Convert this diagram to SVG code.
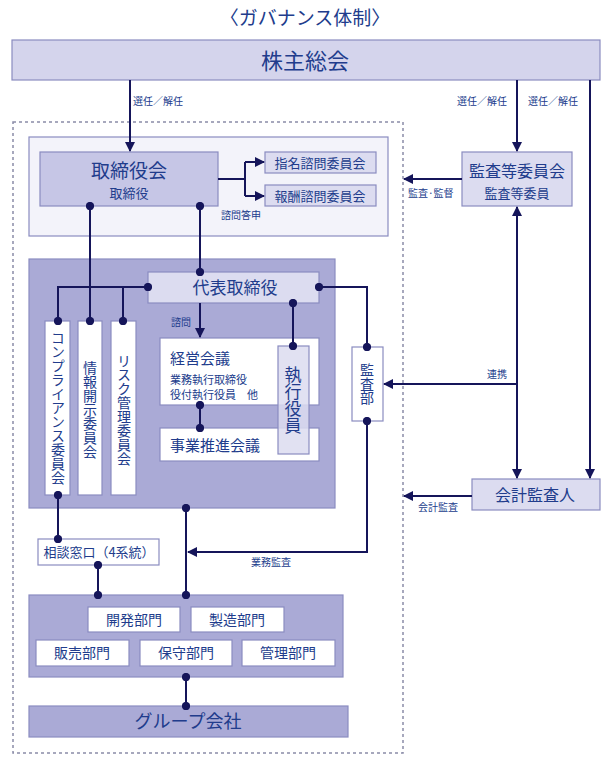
<svg xmlns="http://www.w3.org/2000/svg" width="611" height="760" viewBox="0 0 611 760">
<style>
text{font-family:"Noto Sans CJK JP","Noto Sans",sans-serif;fill:#213c8c}
.c{text-anchor:middle}
.v{writing-mode:vertical-rl;text-anchor:middle}
.ln{fill:none;stroke:#15155a;stroke-width:2}
.bd{stroke:#8a8cc0;stroke-width:1.2}
.lbl{font-size:10px}
.dep{font-size:14px;text-anchor:middle}
</style>
<defs>
<marker id="ah" viewBox="0 0 10 10" refX="9" refY="5" markerWidth="5" markerHeight="5" orient="auto-start-reverse"><path d="M0,0 L10,5 L0,10 z" fill="#15155a"/></marker>
<marker id="dot" viewBox="0 0 10 10" refX="5" refY="5" markerWidth="4.2" markerHeight="4.2"><circle cx="5" cy="5" r="5" fill="#15155a"/></marker>
</defs>
<rect width="611" height="760" fill="#fff"/>
<text x="305" y="25" class="c" style="font-size:19px">〈ガバナンス体制〉</text>

<g id="frame"><rect x="13" y="122" width="390" height="631" fill="none" stroke="#8a8ca8" stroke-width="1.5" stroke-dasharray="3,3"/></g>

<g id="shareholders"><rect x="12" y="40" width="588" height="40" fill="#d4d4ec" class="bd"/><text x="305" y="69" class="c" style="font-size:22px">株主総会</text></g>

<g id="board-panel"><rect x="29" y="137" width="359" height="99" fill="#f3f3fa" class="bd"/></g>
<g id="board"><rect x="40" y="152" width="178" height="54" fill="#c6c6e6" class="bd"/><text x="129" y="178" class="c" style="font-size:19px">取締役会</text><text x="129" y="198" class="c" style="font-size:13px">取締役</text></g>
<g id="nomination"><rect x="265" y="152" width="111" height="21" fill="#dcdcf0" class="bd"/><text x="320" y="168" class="c" style="font-size:13px">指名諮問委員会</text></g>
<g id="remuneration"><rect x="265" y="185" width="111" height="21" fill="#dcdcf0" class="bd"/><text x="320" y="201" class="c" style="font-size:13px">報酬諮問委員会</text></g>

<g id="audit-committee"><rect x="462" y="152" width="110" height="54" fill="#dcdcf0" class="bd"/><text x="517" y="177" class="c" style="font-size:16px">監査等委員会</text><text x="517" y="198" class="c" style="font-size:13px">監査等委員</text></g>

<g id="exec-panel"><rect x="29" y="259" width="306" height="249" fill="#aaaad6" class="bd"/></g>
<g id="president"><rect x="148" y="272" width="171" height="31" fill="#dcdcf0" class="bd"/><text x="235" y="294" class="c" style="font-size:17px">代表取締役</text></g>
<g id="compliance"><rect x="45" y="321" width="25" height="174" fill="#fff" class="bd"/><text x="58" y="408" class="v" style="font-size:14px">コンプライアンス委員会</text></g>
<g id="disclosure"><rect x="78" y="321" width="24" height="174" fill="#fff" class="bd"/><text x="90" y="410" class="v" style="font-size:14px">情報開示委員会</text></g>
<g id="risk"><rect x="111" y="321" width="25" height="174" fill="#fff" class="bd"/><text x="124" y="410" class="v" style="font-size:14px">リスク管理委員会</text></g>
<g id="mgmt-meeting"><rect x="160" y="338" width="159" height="67" fill="#fff" class="bd"/><text x="170" y="364" style="font-size:15px">経営会議</text><text x="170" y="384" style="font-size:11px">業務執行取締役</text><text x="170" y="399" style="font-size:11px">役付執行役員　他</text></g>
<g id="business-meeting"><rect x="160" y="428" width="159" height="33" fill="#fff" class="bd"/><text x="170" y="451" style="font-size:15px">事業推進会議</text></g>
<g id="officers"><rect x="278" y="346" width="31" height="108" fill="#dcdcf0" fill-opacity="0.85" class="bd"/><text x="293" y="400" class="v" style="font-size:17px">執行役員</text></g>
<g id="internal-audit"><rect x="352" y="347" width="31" height="74" fill="#fff" class="bd"/><text x="367" y="384" class="v" style="font-size:14px">監査部</text></g>

<g id="auditor"><rect x="472" y="479" width="128" height="31" fill="#dcdcf0" class="bd"/><text x="535" y="501" class="c" style="font-size:16px">会計監査人</text></g>

<g id="consultation"><rect x="38" y="539" width="121" height="26" fill="#fff" class="bd"/><text x="99" y="557" class="c" style="font-size:13px">相談窓口（4系統）</text></g>

<g id="divisions"><rect x="29" y="595" width="314" height="82" fill="#aaaad6" class="bd"/>
<g id="dev"><rect x="88" y="607" width="92" height="25" fill="#fff" class="bd"/><text x="134" y="625" class="dep">開発部門</text></g>
<g id="mfg"><rect x="191" y="607" width="93" height="25" fill="#fff" class="bd"/><text x="237" y="625" class="dep">製造部門</text></g>
<g id="sales"><rect x="36" y="640" width="93" height="26" fill="#fff" class="bd"/><text x="82" y="658" class="dep">販売部門</text></g>
<g id="maint"><rect x="140" y="640" width="92" height="26" fill="#fff" class="bd"/><text x="186" y="658" class="dep">保守部門</text></g>
<g id="admin"><rect x="242" y="640" width="93" height="26" fill="#fff" class="bd"/><text x="288" y="658" class="dep">管理部門</text></g>
</g>

<g id="group"><rect x="29" y="706" width="319" height="31" fill="#aaaad6" class="bd"/><text x="188" y="728" class="c" style="font-size:18px">グループ会社</text></g>

<g id="connectors">
<path class="ln" d="M130,80 V151" marker-end="url(#ah)"/>
<path class="ln" d="M517,80 V151" marker-end="url(#ah)"/>
<path class="ln" d="M590,80 V478" marker-end="url(#ah)"/>
<path class="ln" d="M517,207 V478" marker-start="url(#ah)" marker-end="url(#ah)"/>
<path class="ln" d="M218,179 H245 M245,162 V196"/>
<path class="ln" d="M245,162 H264" marker-end="url(#ah)"/>
<path class="ln" d="M245,196 H264" marker-end="url(#ah)"/>
<path class="ln" d="M462,179 H404" marker-end="url(#ah)"/>
<path class="ln" d="M90,206 V321" marker-start="url(#dot)" marker-end="url(#dot)"/>
<path class="ln" d="M200,206 V272" marker-start="url(#dot)" marker-end="url(#dot)"/>
<path class="ln" d="M148,287 H58 V321" marker-start="url(#dot)" marker-end="url(#dot)"/>
<path class="ln" d="M123,287 V321" marker-end="url(#dot)"/>
<path class="ln" d="M200,303 V337" marker-end="url(#ah)"/>
<path class="ln" d="M293,303 V346" marker-start="url(#dot)" marker-end="url(#dot)"/>
<path class="ln" d="M200,405 V428" marker-start="url(#dot)" marker-end="url(#dot)"/>
<path class="ln" d="M319,287 H367 V347" marker-start="url(#dot)" marker-end="url(#dot)"/>
<path class="ln" d="M517,384 H384" marker-end="url(#ah)"/>
<path class="ln" d="M367,421 V552 H188" marker-start="url(#dot)" marker-end="url(#ah)"/>
<path class="ln" d="M472,496 H404" marker-end="url(#ah)"/>
<path class="ln" d="M58,495 V539" marker-start="url(#dot)" marker-end="url(#dot)"/>
<path class="ln" d="M98,565 V595" marker-start="url(#dot)" marker-end="url(#dot)"/>
<path class="ln" d="M186,508 V595" marker-start="url(#dot)" marker-end="url(#dot)"/>
<path class="ln" d="M186,677 V706" marker-start="url(#dot)" marker-end="url(#dot)"/>
</g>

<g id="labels">
<text x="133" y="105" class="lbl">選任／解任</text>
<text x="457" y="105" class="lbl">選任／解任</text>
<text x="528" y="105" class="lbl">選任／解任</text>
<text x="221" y="219" class="lbl">諮問答申</text>
<text x="408" y="197" class="lbl">監査·監督</text>
<text x="171" y="326" class="lbl">諮問</text>
<text x="487" y="378" class="lbl">連携</text>
<text x="251" y="566" class="lbl">業務監査</text>
<text x="418" y="511" class="lbl">会計監査</text>
</g>
</svg>
